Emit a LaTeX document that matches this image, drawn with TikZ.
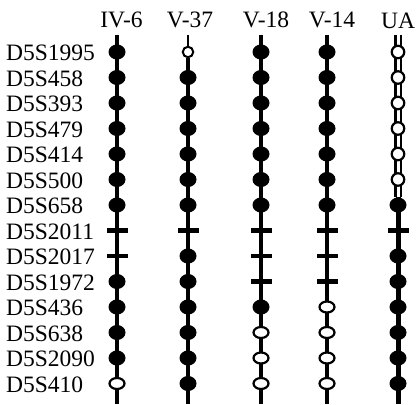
\documentclass[tikz,border=0pt]{standalone}
\usepackage{fontspec}
\setmainfont{Liberation Serif}
\usetikzlibrary{shapes.geometric,backgrounds}
\begin{document}
\begin{tikzpicture}[x=1pt,y=-1pt,
 lab/.style={anchor=base west, inner sep=0, font=\fontsize{23.5}{23.5}\selectfont},
 hdr/.style={anchor=base, inner sep=0, font=\fontsize{23.5}{23.5}\selectfont},
 fm/.style={ellipse, fill=black, minimum width=17pt, minimum height=15pt, inner sep=0},
 om/.style={ellipse, draw=black, line width=2.2pt, fill=white, minimum width=15pt, minimum height=11pt, inner sep=0},
 sm/.style={circle, draw=black, line width=2pt, fill=white, minimum size=10.5pt, inner sep=0},
 um/.style={circle, draw=black, line width=2.2pt, fill=white, minimum size=12.5pt, inner sep=0},
 bm/.style={rectangle, fill=black, minimum width=21pt, minimum height=4.5pt, inner sep=0},
 axis/.style={line width=4.5pt},
 thinaxis/.style={line width=2.2pt},
 hollowaxis/.style={line width=2.2pt, double=white, double distance=3pt}]
\useasboundingbox (0,0) rectangle (419,404);

% headers
\node[hdr] (h1) at (121.5,27.5) {IV-6};
\node[hdr] (h2) at (190,27.5) {V-37};
\node[hdr] (h3) at (266,27.5) {V-18};
\node[hdr] (h4) at (332,27.5) {V-14};
\node[hdr] (h5) at (398,29) {UA};

% row labels
\foreach \name [count=\r] in {D5S1995,D5S458,D5S393,D5S479,D5S414,D5S500,D5S658,D5S2011,D5S2017,D5S1972,D5S436,D5S638,D5S2090,D5S410}
  \node[lab] (l\r) at (6,{52+(\r-1)*25.5+8.5}) {\name};

% markers
\foreach \s [count=\r] in {fm,fm,fm,fm,fm,fm,fm,bm,bm,fm,fm,fm,fm,om}
  \node[\s] (m1-\r) at (117,{52+(\r-1)*25.5}) {};
\foreach \s [count=\r] in {sm,fm,fm,fm,fm,fm,fm,bm,fm,fm,fm,fm,fm,fm}
  \node[\s] (m2-\r) at (188,{52+(\r-1)*25.5}) {};
\foreach \s [count=\r] in {fm,fm,fm,fm,fm,fm,fm,bm,bm,bm,fm,om,om,om}
  \node[\s] (m3-\r) at (261,{52+(\r-1)*25.5}) {};
\foreach \s [count=\r] in {fm,fm,fm,fm,fm,fm,fm,bm,bm,bm,om,om,om,om}
  \node[\s] (m4-\r) at (327,{52+(\r-1)*25.5}) {};
\foreach \s [count=\r] in {um,um,um,um,um,um,fm,bm,fm,fm,fm,fm,fm,fm}
  \node[\s] (m5-\r) at (398,{52+(\r-1)*25.5}) {};

% column lines
\coordinate (t1) at (117,35); \coordinate (b1) at (117,404);
\coordinate (t2) at (188,35); \coordinate (b2) at (188,404);
\coordinate (t3) at (261,35); \coordinate (b3) at (261,404);
\coordinate (t4) at (327,35); \coordinate (b4) at (327,404);
\coordinate (t5) at (398,35); \coordinate (b5) at (398,404);
\coordinate (s5) at (398,197);
\begin{pgfonlayer}{background}
  \draw[axis] (t1) -- (b1);
  \draw[thinaxis] (t2) -- (m2-1);
  \draw[axis] (m2-1) -- (b2);
  \draw[axis] (t3) -- (b3);
  \draw[axis] (t4) -- (b4);
  \draw[hollowaxis] (t5) -- (s5);
  \draw[line width=5pt] (s5) -- (b5);
\end{pgfonlayer}
\end{tikzpicture}
\end{document}
